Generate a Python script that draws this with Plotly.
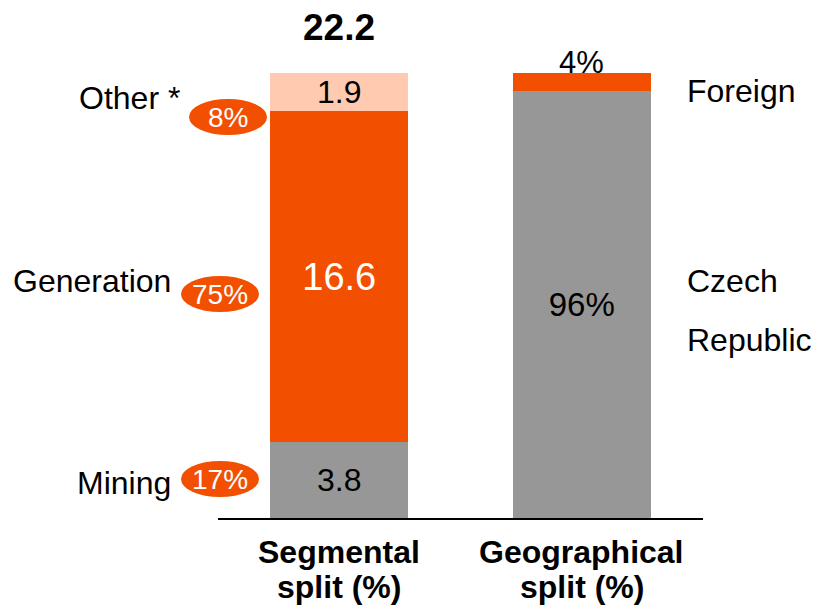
import plotly.graph_objects as go

# data
segments = ["Mining", "Generation", "Other *"]
seg_values = [3.8, 16.6, 1.9]
seg_share = ["17%", "75%", "8%"]
seg_total = "22.2"

regions = ["Czech Republic", "Foreign"]
geo_values = [96, 4]

categories = ["Segmental split (%)", "Geographical split (%)"]
cat_lines = [["Segmental", "split (%)"], ["Geographical", "split (%)"]]

ORANGE = "#F25000"
GREY = "#979797"
PEACH = "#FFCAB0"
FONT = "Liberation Sans, Arial, sans-serif"

W, H = 815, 606
# plot area in pixels: x 218..703, y 73..518
L, R, T, B = 218, W - 703, 73, H - 518
pw, ph = W - L - R, H - T - B


def px(x, y):
    # pixel -> paper coords
    return (x - L) / pw, (H - B - y) / ph


fig = go.Figure()

seg_colors = [GREY, ORANGE, PEACH]
seg_text_col = ["black", "white", "black"]
seg_text_size = [32, 38, 32]
for name, v, c, tc, ts in zip(segments, seg_values, seg_colors, seg_text_col, seg_text_size):
    fig.add_trace(go.Bar(
        x=[categories[0]], y=[v], name=name, marker_color=c, marker_line_width=0,
        text=[f"{v:.1f}"], textposition="inside", insidetextanchor="middle",
        constraintext="none", textfont=dict(size=ts, color=tc, family=FONT),
        yaxis="y",
    ))

geo_colors = [GREY, ORANGE]
for name, v, c in zip(regions, geo_values, geo_colors):
    fig.add_trace(go.Bar(
        x=[categories[1]], y=[v], name=name, marker_color=c, marker_line_width=0,
        text=[f"{v}%" if v > 50 else ""], textposition="inside", insidetextanchor="middle",
        constraintext="none", textfont=dict(size=33, color="black", family=FONT),
        yaxis="y2",
    ))

annotations = []
# total on top
annotations.append(dict(x=categories[0], y=sum(seg_values), xref="x", yref="y", text=f"<b>{seg_total}</b>",
                        showarrow=False, yanchor="middle", yshift=46, font=dict(size=37)))
# 4% label above the small segment
annotations.append(dict(x=categories[1], y=100, xref="x", yref="y2", text=f"{geo_values[1]}%",
                        showarrow=False, yanchor="middle", yshift=11, font=dict(size=31)))

# category labels under the axis
for cat, lines in zip(categories, cat_lines):
    for line, yy in zip(lines, [552, 587]):
        _, ay = px(0, yy)
        annotations.append(dict(x=cat, y=ay, xref="x", yref="paper", text=f"<b>{line}</b>",
                                showarrow=False, yanchor="middle", font=dict(size=32)))

# left labels and share ellipses
label_pos = [(173, 483), (173, 281), (182, 98)]
ellipse_pos = [(220, 479), (220, 294), (228, 117)]
shapes = []
for name, share, (lx, ly), (ex, ey) in zip(segments, seg_share, label_pos, ellipse_pos):
    ax, ay = px(lx, ly)
    annotations.append(dict(x=ax, y=ay, xref="paper", yref="paper", text=name, showarrow=False,
                            xanchor="right", yanchor="middle", font=dict(size=32)))
    x0, y0 = px(ex - 39, ey - 18)
    x1, y1 = px(ex + 39, ey + 18)
    shapes.append(dict(type="circle", xref="paper", yref="paper", x0=x0, x1=x1, y0=y1, y1=y0,
                       fillcolor=ORANGE, line=dict(width=0), layer="above"))
    cx, cy = px(ex, ey)
    annotations.append(dict(x=cx, y=cy, xref="paper", yref="paper", text=share, showarrow=False,
                            xanchor="center", yanchor="middle", font=dict(size=28, color="white")))

# right labels
right_pos = [[(685, 281), (685, 340)], [(685, 91)]]
for name, pos in zip(regions, right_pos):
    words = name.split(" ") if len(pos) > 1 else [name]
    for w, (rx, ry) in zip(words, pos):
        ax, ay = px(rx, ry)
        annotations.append(dict(x=ax, y=ay, xref="paper", yref="paper", text=w, showarrow=False,
                                xanchor="left", yanchor="middle", font=dict(size=32)))

fig.update_layout(
    width=W, height=H,
    margin=dict(l=L, r=R, t=T, b=B),
    barmode="stack", bargap=0.43,
    showlegend=False,
    plot_bgcolor="white", paper_bgcolor="white",
    font=dict(family=FONT, size=32, color="black"),
    xaxis=dict(showline=True, linecolor="black", linewidth=2, ticks="", showgrid=False,
               showticklabels=False, categoryorder="array", categoryarray=categories),
    yaxis=dict(range=[0, sum(seg_values)], visible=False),
    yaxis2=dict(range=[0, 100], overlaying="y", visible=False),
    annotations=annotations,
    shapes=shapes,
)

# drop the default 8px page margin so the figure sits at the window's corner
fig.write_html("out.html", config={"displayModeBar": False},
               post_script="document.body.style.margin='0';")
